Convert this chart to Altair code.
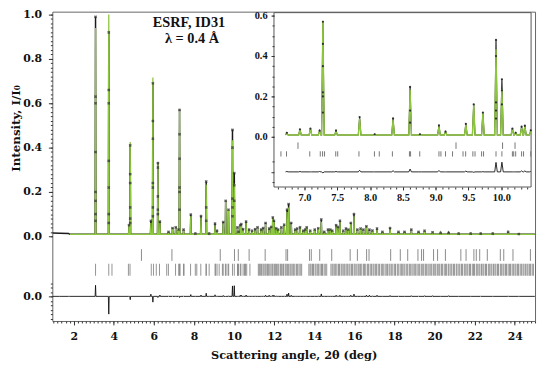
import altair as alt
import pandas as pd

FONT = "DejaVu Serif"
FONT2 = "Liberation Serif"
GREEN = "#8dc63f"

# ---- data ----
# reflections: 2theta position, calculated and observed peak heights (I/I0)
peak_pos = [3.09, 3.75, 4.76, 4.82, 5.85, 5.95, 6.20, 6.30, 6.73, 6.93,
            7.09, 7.23, 7.28, 7.48, 7.84, 8.07, 8.35, 8.61, 8.76, 9.05,
            9.15, 9.46, 9.58, 9.72, 9.92, 10.01, 10.17, 10.22, 10.31, 10.36,
            10.60, 10.75, 11.17, 11.35, 11.57, 11.75, 11.93, 11.99, 12.20, 12.36,
            12.64, 12.72, 12.85, 13.05, 13.29, 13.45, 13.62, 13.80, 14.02, 14.35,
            14.50, 14.68, 14.90, 15.09, 15.28, 15.45, 15.58, 15.82, 15.98, 16.15,
            16.31, 16.60, 16.75, 17.13, 17.40, 17.78, 18.20, 18.50, 18.84, 19.20,
            19.50, 19.90, 20.30, 20.70, 21.20, 21.80, 22.30, 22.90, 23.67, 24.20,
            10.45, 10.90, 11.05, 11.45, 11.85, 12.10, 12.50, 13.15, 13.55, 14.20,
            14.80, 15.18, 15.70, 16.45, 16.90]
peak_calc = [0.94, 1.00, 0.05, 0.425, 0.06, 0.716, 0.335, 0.06, 0.018, 0.035,
             0.04, 0.028, 0.575, 0.028, 0.09, 0.012, 0.085, 0.233, 0.012, 0.05,
             0.025, 0.06, 0.162, 0.119, 0.433, 0.237, 0.04, 0.02, 0.045, 0.05,
             0.06, 0.03, 0.04, 0.03, 0.055, 0.03, 0.08, 0.065, 0.03, 0.04,
             0.11, 0.13, 0.055, 0.03, 0.04, 0.025, 0.04, 0.025, 0.03, 0.065,
             0.02, 0.03, 0.025, 0.045, 0.065, 0.025, 0.035, 0.055, 0.09, 0.03,
             0.035, 0.04, 0.025, 0.03, 0.02, 0.033, 0.018, 0.02, 0.027, 0.018,
             0.022, 0.015, 0.015, 0.012, 0.012, 0.012, 0.01, 0.012, 0.018, 0.01,
             0.03, 0.025, 0.03, 0.035, 0.04, 0.035, 0.05, 0.035, 0.03, 0.035,
             0.03, 0.04, 0.03, 0.03, 0.025]
peak_obs = [0.99, 0.92, 0.05, 0.41, 0.07, 0.69, 0.33, 0.066, 0.02, 0.037,
            0.04, 0.03, 0.57, 0.03, 0.098, 0.012, 0.091, 0.247, 0.012, 0.057,
            0.025, 0.064, 0.16, 0.12, 0.48, 0.285, 0.04, 0.02, 0.05, 0.055,
            0.066, 0.03, 0.04, 0.03, 0.06, 0.035, 0.085, 0.07, 0.03, 0.04,
            0.12, 0.145, 0.06, 0.03, 0.04, 0.025, 0.04, 0.025, 0.03, 0.076,
            0.02, 0.03, 0.025, 0.05, 0.07, 0.025, 0.035, 0.06, 0.10, 0.03,
            0.035, 0.045, 0.03, 0.035, 0.02, 0.037, 0.02, 0.02, 0.03, 0.02,
            0.025, 0.018, 0.015, 0.015, 0.012, 0.012, 0.012, 0.012, 0.02, 0.01,
            0.032, 0.025, 0.032, 0.037, 0.042, 0.036, 0.052, 0.035, 0.03, 0.036,
            0.03, 0.042, 0.03, 0.03, 0.026]

# observed points on the flanks of the strong reflections
flank_x = [3.09, 3.09, 3.09, 3.09, 3.09, 3.09, 3.09,
           3.75, 3.75, 3.75, 3.75, 3.75, 3.75,
           4.82, 4.82, 4.82, 4.82, 4.82,
           5.95, 5.95, 5.95, 5.95, 5.95, 5.95,
           6.20, 6.20, 6.20, 6.20,
           7.28, 7.28, 7.28, 7.28, 7.28,
           8.61, 8.61,
           9.92, 9.92, 9.92, 9.92,
           10.01, 10.01]
flank_y = [0.63, 0.60, 0.38, 0.20, 0.16, 0.10, 0.07,
           0.66, 0.60, 0.34, 0.22, 0.10, 0.06,
           0.28, 0.24, 0.13, 0.08, 0.06,
           0.52, 0.44, 0.24, 0.22, 0.13, 0.09,
           0.31, 0.18, 0.12, 0.10,
           0.46, 0.35, 0.22, 0.20, 0.12,
           0.13, 0.07,
           0.40, 0.17, 0.13, 0.09,
           0.23, 0.16]

# low-angle observed data before the refined range
low_x = [0.95, 1.30, 1.75]
low_y = [0.015, 0.014, 0.013]
background = 0.009
calc_start = 1.80
scan_end = 25.0

# reflection markers, phase 1 (upper row) and phase 2 (lower row)
ticks_phase1 = [5.38, 6.90, 9.31, 10.02, 10.21, 10.75, 11.55, 12.59, 12.67, 13.76,
                13.85, 14.27, 14.87, 15.79, 16.15, 16.61, 16.73, 17.81, 18.29, 18.66,
                19.17, 19.35, 19.45, 19.95, 20.15, 20.54, 21.31, 21.57, 21.96, 22.08,
                22.25, 22.63, 23.28, 23.45, 23.91, 24.78]
ticks_phase2 = [3.09, 3.75, 3.91, 4.73, 4.81, 5.87, 5.98, 6.12, 6.28, 6.64,
                6.725, 7.08, 7.24, 7.275, 7.305, 7.476, 7.506, 7.83, 8.066, 8.14,
                8.34, 8.60, 8.617, 8.757, 9.05, 9.08, 9.15, 9.257, 9.417, 9.457,
                9.567, 9.60, 9.70, 9.73, 9.92, 10.01, 10.17, 10.19, 10.22, 10.31,
                10.34, 10.45, 10.52, 10.57, 10.63, 10.79, 11.21, 11.26, 11.31, 11.37,
                11.44, 11.49, 11.55, 11.60, 11.67, 11.71, 11.78, 11.84, 11.90, 11.94,
                12.01, 12.06, 12.12, 12.18, 12.23, 12.31, 12.36, 12.43, 12.47, 12.55,
                12.60, 12.66, 12.72, 12.79, 12.84, 12.90, 12.97, 13.03, 13.11, 13.17,
                13.24, 13.30, 13.37, 13.73, 13.79, 13.84, 13.91, 13.96, 14.04, 14.09,
                14.17, 14.22, 14.29, 14.36, 14.41, 14.49, 14.55, 14.62, 14.83, 14.89,
                14.94, 15.02, 15.07, 15.13, 15.21, 15.26, 15.34, 15.39, 15.47, 15.52,
                15.59, 15.65, 15.73, 15.78, 15.86, 15.91, 15.99, 16.04, 16.12, 16.19,
                16.24, 16.31, 16.37, 16.46, 16.51, 16.57, 16.66, 16.71, 16.79, 16.85,
                16.93, 16.98, 17.06, 17.11, 17.19, 17.25, 17.34, 17.39, 17.44, 17.53,
                17.59, 17.65, 17.73, 17.78, 17.86, 17.92, 18.01, 18.05, 18.14, 18.19,
                18.28, 18.34, 18.39, 18.47, 18.52, 18.61, 18.66, 18.74, 18.79, 18.87,
                18.93, 19.01, 19.06, 19.13, 19.21, 19.26, 19.34, 19.41, 19.46, 19.54,
                19.59, 19.67, 19.73, 19.81, 19.86, 19.94, 20.01, 20.06, 20.14, 20.21,
                20.26, 20.34, 20.39, 20.48, 20.54, 20.59, 20.68, 20.72, 20.81, 20.86,
                20.94, 20.99, 21.08, 21.12, 21.21, 21.26, 21.34, 21.39, 21.48, 21.53,
                21.61, 21.66, 21.74, 21.79, 21.88, 21.94, 21.99, 22.08, 22.13, 22.21,
                22.26, 22.34, 22.41, 22.46, 22.54, 22.59, 22.68, 22.73, 22.81, 22.86,
                22.94, 23.01, 23.06, 23.14, 23.19, 23.28, 23.33, 23.41, 23.46, 23.54,
                23.59, 23.67, 23.74, 23.79, 23.87, 23.93, 24.01, 24.06, 24.14, 24.19,
                24.27, 24.33, 24.41, 24.46, 24.54, 24.61, 24.66, 24.74, 24.79, 24.87,
                24.93]

annotation = ["ESRF, ID31", "λ = 0.4 Å"]
x_title = "Scattering angle, 2θ (deg)"
y_title = "Intensity, I/I₀"

# ---- tables for the library ----
HW = 0.02
rows = [{"x": a, "obs": b, "calc": None} for a, b in zip(low_x, low_y)]
rows.append({"x": calc_start, "obs": background, "calc": background})
for p, c, o in zip(peak_pos, peak_calc, peak_obs):
    rows.append({"x": p - HW, "obs": background, "calc": background})
    rows.append({"x": p, "obs": o, "calc": c})
    rows.append({"x": p + HW, "obs": background, "calc": background})
rows.append({"x": scan_end, "obs": background, "calc": background})
prof = pd.DataFrame(rows).sort_values("x").reset_index(drop=True)
prof["diff"] = (prof["obs"] - prof["calc"]).fillna(0.0)

pts = pd.DataFrame({"x": list(peak_pos) + flank_x, "y": list(peak_obs) + flank_y})
t1 = pd.DataFrame({"x": ticks_phase1})
t2 = pd.DataFrame({"x": ticks_phase2})

# ---- main panel ----
MAIN_X = [0.935, 25.01]
MAIN_Y = [-0.3822, 1.0133]
DIFF_OFF = -0.2711
sx = alt.Scale(domain=MAIN_X, nice=False, zero=False)
sy = alt.Scale(domain=MAIN_Y, nice=False, zero=False)

ax_x = alt.Axis(orient="bottom", values=list(range(2, 25, 2)), format="d", tickSize=4,
                labelPadding=6, labelFontSize=11, labelOverlap=False, labelFlush=False,
                title=x_title, titleFontSize=11.5, titleY=35, titleBaseline="middle",
                domain=False, grid=False)
ax_x_minor = alt.Axis(orient="bottom", values=[round(1.0 + 0.2 * i, 2) for i in range(121)],
                      labels=False, tickSize=2, domain=False, grid=False, title=None)
ax_y = alt.Axis(orient="left", values=[0, 0.2, 0.4, 0.6, 0.8, 1.0, DIFF_OFF],
                labelExpr="datum.value < -0.1 ? '0.0' : format(datum.value, '.1f')",
                tickSize=4, labelPadding=7, labelFontSize=11, labelOverlap=False, labelFlush=False,
                title=y_title, titleFontSize=12, titleX=-42, titleY=118, titleAngle=270,
                titleAlign="center", titleBaseline="top", domain=False, grid=False)
ax_y_minor = alt.Axis(orient="left",
                      values=[round(0.02 * i, 3) for i in range(51)]
                      + [round(DIFF_OFF + 0.02 * k, 4) for k in range(-5, 4)],
                      labels=False, tickSize=2, domain=False, grid=False, title=None)

obs_line = alt.Chart(prof).mark_line(color="#1a1a1a", strokeWidth=1.5, clip=True).encode(
    x=alt.X("x:Q", scale=sx, axis=ax_x), y=alt.Y("obs:Q", scale=sy, axis=ax_y))
calc_line = alt.Chart(prof).mark_line(color=GREEN, strokeWidth=1.3, clip=True).encode(
    x=alt.X("x:Q", scale=sx, axis=None), y=alt.Y("calc:Q", scale=sy, axis=None))
obs_pts = alt.Chart(pts).mark_point(shape="cross", angle=45, size=10, filled=True,
                                    color="#333333", opacity=0.75, clip=True).encode(
    x=alt.X("x:Q", scale=sx, axis=None), y=alt.Y("y:Q", scale=sy, axis=None))
rows1 = alt.Chart(t1).mark_rule(color="#8a8a8a", strokeWidth=1).encode(
    x=alt.X("x:Q", scale=sx, axis=None),
    y=alt.YDatum(-0.058, scale=sy, axis=None), y2=alt.Y2Datum(-0.111))
rows2 = alt.Chart(t2).mark_rule(color="#808080", strokeWidth=1, opacity=0.85).encode(
    x=alt.X("x:Q", scale=sx, axis=None),
    y=alt.YDatum(-0.124, scale=sy, axis=None), y2=alt.Y2Datum(-0.178))
diff_line = alt.Chart(prof).transform_calculate(dm=f"datum.diff + ({DIFF_OFF})").mark_line(
    color="#111111", strokeWidth=0.9, clip=True).encode(
    x=alt.X("x:Q", scale=sx, axis=ax_x_minor), y=alt.Y("dm:Q", scale=sy, axis=ax_y_minor))
txt1 = alt.Chart(pd.DataFrame({"t": [annotation[0]]})).mark_text(
    font=FONT2, fontSize=14.5, fontWeight="bold", color="#111", align="center", baseline="middle").encode(
    x=alt.XDatum(7.75, scale=sx, axis=None), y=alt.YDatum(0.962, scale=sy, axis=None), text="t:N")
txt2 = alt.Chart(pd.DataFrame({"t": [annotation[1]]})).mark_text(
    font=FONT2, fontSize=14.5, fontWeight="bold", color="#111", align="center", baseline="middle").encode(
    x=alt.XDatum(7.9, scale=sx, axis=None), y=alt.YDatum(0.89, scale=sy, axis=None), text="t:N")

main = alt.layer(obs_line, calc_line, obs_pts, rows1, rows2, diff_line, txt1, txt2).resolve_axis(
    x="independent", y="independent")

# ---- inset ----
IN_X = [6.534, 10.455]
IN_Y = [-0.249, 0.615]
IN_DIFF = -0.174
sxi = alt.Scale(domain=IN_X, range=[225, 486], nice=False, zero=False)
syi = alt.Scale(domain=IN_Y, range=[178, 1], nice=False, zero=False)
in_filter = f"datum.x >= {IN_X[0]} && datum.x <= {IN_X[1]}"

ax_xi = alt.Axis(orient="bottom", offset=-136, values=[7.0, 7.5, 8.0, 8.5, 9.0, 9.5, 10.0],
                 format=".1f", tickSize=3, labelPadding=3, labelFontSize=10.5, labelFont=FONT2,
                 labelOverlap=False, labelFlush=False, domain=False, grid=False, title=None, zindex=1)
ax_xi_minor = alt.Axis(orient="bottom", offset=-136, values=[round(6.6 + 0.1 * i, 2) for i in range(39)],
                       labels=False, tickSize=2, domain=False, grid=False, title=None, zindex=1)
ax_yi = alt.Axis(orient="left", offset=-225, values=[0, 0.2, 0.4, 0.6, IN_DIFF],
                 labelExpr="datum.value < -0.1 ? '' : format(datum.value, '.1f')",
                 tickSize=3, labelPadding=4, labelFontSize=10.5, labelFont=FONT2, labelOverlap=False,
                 labelFlush=False, domain=False, grid=False, title=None, zindex=1)
ax_yi_minor = alt.Axis(orient="left", offset=-225,
                       values=[round(0.05 * i, 3) for i in range(13)]
                       + [round(IN_DIFF - 0.05, 3), round(IN_DIFF + 0.05, 3)],
                       labels=False, tickSize=2, domain=False, grid=False, title=None, zindex=1)

in_bg = alt.Chart(pd.DataFrame({"a": [0]})).mark_rect(fill="white", stroke="#555555", strokeWidth=1).encode(
    x=alt.XDatum(IN_X[0], scale=sxi, axis=None), x2=alt.X2Datum(IN_X[1]),
    y=alt.YDatum(IN_Y[0], scale=syi, axis=None), y2=alt.Y2Datum(IN_Y[1]))
in_obs = alt.Chart(prof).transform_filter(in_filter).mark_line(color="#1a1a1a", strokeWidth=1.1).encode(
    x=alt.X("x:Q", scale=sxi, axis=ax_xi), y=alt.Y("obs:Q", scale=syi, axis=ax_yi))
in_calc = alt.Chart(prof).transform_filter(in_filter).mark_line(color=GREEN, strokeWidth=1.4).encode(
    x=alt.X("x:Q", scale=sxi, axis=None), y=alt.Y("calc:Q", scale=syi, axis=None))
in_pts = alt.Chart(pts).transform_filter(in_filter).mark_point(shape="circle", size=5, filled=True,
                                                                 color="#222222", opacity=0.9).encode(
    x=alt.X("x:Q", scale=sxi, axis=None), y=alt.Y("y:Q", scale=syi, axis=None))
in_rows1 = alt.Chart(t1).transform_filter(in_filter).mark_rule(color="#777777", strokeWidth=1).encode(
    x=alt.X("x:Q", scale=sxi, axis=None),
    y=alt.YDatum(-0.028, scale=syi, axis=None), y2=alt.Y2Datum(-0.060))
in_rows2 = alt.Chart(t2).transform_filter(in_filter).mark_rule(color="#777777", strokeWidth=1).encode(
    x=alt.X("x:Q", scale=sxi, axis=None),
    y=alt.YDatum(-0.072, scale=syi, axis=None), y2=alt.Y2Datum(-0.098))
in_diff = alt.Chart(prof).transform_filter(in_filter).transform_calculate(
    dm=f"datum.diff + ({IN_DIFF})").mark_line(color="#111111", strokeWidth=0.9).encode(
    x=alt.X("x:Q", scale=sxi, axis=ax_xi_minor), y=alt.Y("dm:Q", scale=syi, axis=ax_yi_minor))

inset = alt.layer(in_bg, in_obs, in_calc, in_pts, in_rows1, in_rows2, in_diff).resolve_axis(
    x="independent", y="independent")

chart = alt.layer(main, inset).resolve_scale(x="independent", y="independent").properties(
    width=490, height=314,
    padding={"left": 45, "top": 1, "right": 2, "bottom": 45},
    autosize=alt.AutoSizeParams(type="none"),
).configure_view(stroke="#666666", strokeWidth=1).configure_axis(
    labelFont=FONT, titleFont=FONT, labelFontWeight="bold", titleFontWeight="bold",
    labelColor="#111111", titleColor="#111111", tickColor="#333333")

chart.save("out.html", embed_options={"renderer": "svg", "actions": False})
